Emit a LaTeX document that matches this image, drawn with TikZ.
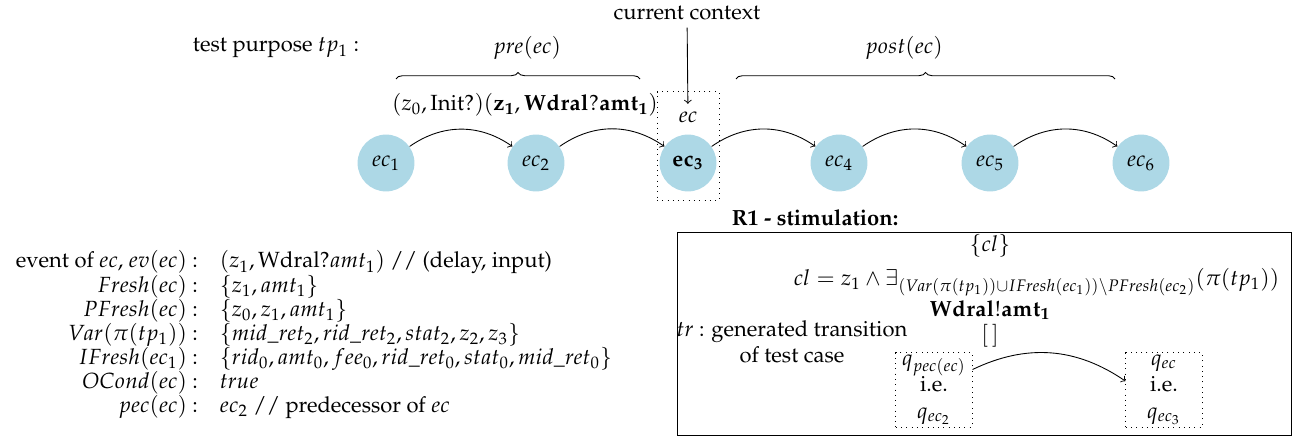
\documentclass[tikz,border=0pt]{standalone}
\usepackage[T1]{fontenc}
\usepackage{mathpazo}
\usepackage{amsmath}
\usepackage{xcolor}
\usetikzlibrary{decorations.pathreplacing}
\definecolor{ecblue}{RGB}{173,216,230}

\begin{document}
\begin{tikzpicture}[x=0.016cm, y=-0.016cm,
    ecnode/.style={circle, fill=ecblue, minimum size=0.91cm, inner sep=0pt},
    dotbox/.style={draw, dotted, rectangle, inner sep=1pt},
    trans/.style={->, bend left=35},
    brace/.style={decorate, decoration={brace, amplitude=3pt}}]
    \useasboundingbox (0,0) rectangle (1302,437);

    % Test purpose
    \node (tp) at (276,48) {test purpose $tp_1$ :};
    \node (ctx) at (687,13) {current context};
    \node (pre) at (527,48) {$pre(ec)$};
    \node (post) at (904,48) {$post(ec)$};
    \draw[brace] (396,79) -- (640,79);
    \draw[brace] (736,79) -- (1115,79);

    % Execution contexts
    \node[ecnode] (ec1) at (386,163) {$ec_1$};
    \node[ecnode] (ec2) at (536,163) {$ec_2$};
    \node[ecnode] (ec3) at (688,163) {$\mathbf{ec_3}$};
    \node[ecnode] (ec4) at (839,163) {$ec_4$};
    \node[ecnode] (ec5) at (990,163) {$ec_5$};
    \node[ecnode] (ec6) at (1141,163) {$ec_6$};
    \node[dotbox, minimum width=0.99cm, minimum height=1.74cm] (ecbox) at (688,146) {};
    \node (eclbl) at (688,117) {$ec$};
    \node (evlbl) at (525,105) {$(z_0,\mathrm{Init?})(\mathbf{z_1},\mathbf{Wdral?amt_1})$};

    % Arrows
    \draw[->] (ctx) -- (eclbl);
    \foreach \a/\b in {ec1/ec2, ec2/ec3, ec3/ec4, ec4/ec5, ec5/ec6}
        \draw[trans] (\a) to (\b);

    % Properties of ec
    \node[anchor=base west] (props) at (8,268) {\renewcommand{\arraystretch}{0.88}%
        \begin{tabular}[t]{@{}r@{\quad}l@{}}
            event of $ec$, $ev(ec)$ : & $(z_1,\mathrm{Wdral?}amt_1)$ // (delay, input)\\
            $Fresh(ec)$ : & $\{z_1,amt_1\}$\\
            $PFresh(ec)$ : & $\{z_0,z_1,amt_1\}$\\
            $Var(\pi(tp_1))$ : & $\{mid\_ret_2,rid\_ret_2,stat_2,z_2,z_3\}$\\
            $IFresh(ec_1)$ : & $\{rid_0,amt_0,fee_0,rid\_ret_0,stat_0,mid\_ret_0\}$\\
            $OCond(ec)$ : & $true$\\
            $pec(ec)$ : & $ec_2$ // predecessor of $ec$
        \end{tabular}};

    % Stimulation rule
    \node[font=\bfseries] (r1) at (815,218) {R1 - stimulation:};
    \draw (677,232) rectangle (1291,435);
    \node (cl) at (990,246) {$\{cl\}$};
    \node[anchor=east] (cldef) at (1287,282) {$cl = z_1 \wedge \exists_{(Var(\pi(tp_1))\cup IFresh(ec_1))\setminus PFresh(ec_2)}(\pi(tp_1))$};
    \node (out) at (990,310) {$\mathbf{Wdral!amt_1}$};
    \node (grd) at (990,336) {$[\,]$};
    \node[align=center] (tr) at (792,342) {$tr$ : generated transition\\of test case};
    \node[dotbox, minimum width=1.22cm, minimum height=1.18cm, align=center] (qpre) at (934,390) {$q_{pec(ec)}$\\i.e.\\$q_{ec_2}$};
    \node[dotbox, minimum width=1.22cm, minimum height=1.18cm, align=center] (qcur) at (1164,390) {$q_{ec}$\\i.e.\\$q_{ec_3}$};
    \draw[->] (qpre.28) to[bend left=30] (qcur.167);
\end{tikzpicture}
\end{document}
